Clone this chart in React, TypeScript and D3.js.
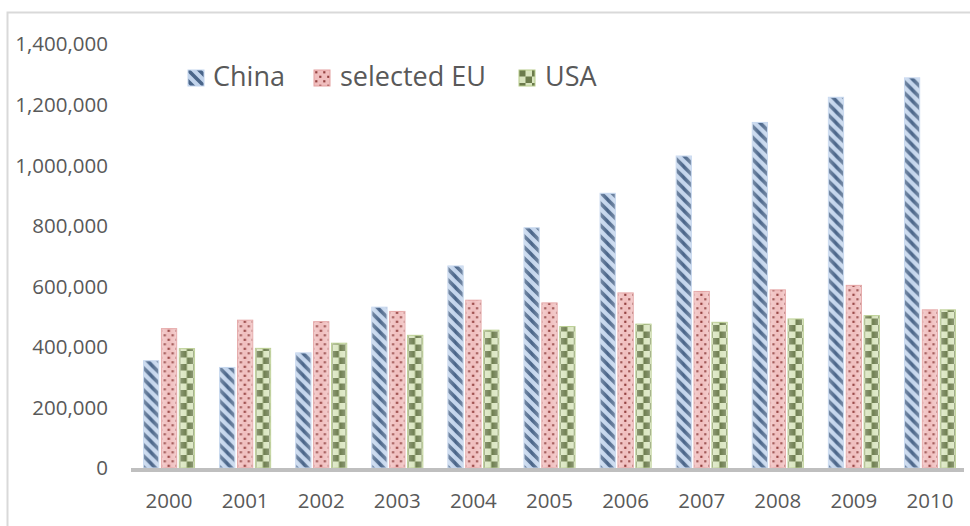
import React from "react";
import * as d3 from "d3";

const years = ["2000", "2001", "2002", "2003", "2004", "2005", "2006", "2007", "2008", "2009", "2010"];
const seriesNames = ["China", "selected EU", "USA"];
const china = [354000, 332000, 380000, 531000, 667000, 793000, 907000, 1030000, 1141000, 1224000, 1288000];
const eu = [460000, 488000, 483000, 517000, 554000, 545000, 578000, 583000, 588000, 603000, 522000];
const usa = [394000, 395000, 412000, 438000, 455000, 467000, 475000, 481000, 492000, 503000, 522000];
const yTicks = [0, 200000, 400000, 600000, 800000, 1000000, 1200000, 1400000];

const W = 970;
const H = 526;
const FONT = "'Open Sans', 'Liberation Sans', sans-serif";

export default function App() {
  const x = d3.scaleBand<string>().domain(years).range([131, 968]).paddingInner(0.33).paddingOuter(0.165);
  const xs = d3.scaleBand<string>().domain(seriesNames).range([0, x.bandwidth()]).paddingInner(0.15);
  const y = d3.scaleLinear().domain([0, 1400000]).range([468, 44]);
  const fmt = d3.format(",");
  const data = [china, eu, usa];
  const strokes = ["#c3d5ee", "#e3a0a0", "#b7cc8c"];

  const patternDefs = (id: string, s: number, px: number, py: number) => {
    if (s === 0) {
      return (
        <pattern key={id} id={id} patternUnits="userSpaceOnUse" x={px} y={py} width={11} height={11}>
          <rect width={11} height={11} fill="#c2d4ec" />
          <path d="M-5.5,-5.5 L16.5,16.5 M-5.5,5.5 L5.5,16.5 M5.5,-5.5 L16.5,5.5" stroke="#4a6589" strokeWidth={3.6} />
        </pattern>
      );
    }
    if (s === 1) {
      return (
        <pattern key={id} id={id} patternUnits="userSpaceOnUse" x={px} y={py} width={8} height={9}>
          <rect width={8} height={9} fill="#f0bebe" />
          <rect x={1.2} y={1.2} width={2.2} height={2.2} fill="#93403f" />
          <rect x={5.2} y={5.7} width={2.2} height={2.2} fill="#93403f" />
        </pattern>
      );
    }
    return (
      <pattern key={id} id={id} patternUnits="userSpaceOnUse" x={px} y={py} width={13} height={13}>
        <rect width={13} height={13} fill="#d9e5bf" />
        <rect x={0} y={0} width={6.5} height={6.5} fill="#6b7b4c" />
        <rect x={6.5} y={6.5} width={6.5} height={6.5} fill="#6b7b4c" />
      </pattern>
    );
  };

  const defs: React.ReactNode[] = [];
  const bars: React.ReactNode[] = [];
  years.forEach((yr, i) => {
    seriesNames.forEach((s, si) => {
      const v = data[si][i];
      const bx = (x(yr) as number) + (xs(s) as number);
      const by = y(v);
      const bw = xs.bandwidth();
      const bh = y(0) - by;
      const id = `p-${si}-${i}`;
      defs.push(patternDefs(id, si, bx + 1, y(0)));
      bars.push(
        <g key={id}>
          <rect x={bx} y={by} width={bw} height={bh} fill={`url(#${id})`} stroke={strokes[si]} strokeWidth={1} />
          <rect x={bx} y={by} width={bw} height={bh} fill="url(#sheen)" />
        </g>
      );
    });
  });

  const legendX = [188, 314, 519];
  const legendTextX = [213, 340, 545];

  return (
    <svg width={W} height={H} style={{ position: "absolute", left: 0, top: 0, background: "#fff" }}>
      <defs>
        <linearGradient id="sheen" x1="0" x2="1" y1="0" y2="0">
          <stop offset="0" stopColor="#fff" stopOpacity={0.25} />
          <stop offset="0.5" stopColor="#fff" stopOpacity={0} />
          <stop offset="1" stopColor="#fff" stopOpacity={0.25} />
        </linearGradient>
        {defs}
        {seriesNames.map((s, si) => patternDefs(`leg-${si}`, si, legendX[si], 70))}
      </defs>
      <path d={`M7.5,${H} L7.5,12.5 L${W},12.5`} fill="none" stroke="#d9d9d9" strokeWidth={2} />
      {yTicks.map((t) => (
        <text key={t} x={108} y={y(t)} dy="0.36em" textAnchor="end" fontFamily={FONT} fontSize={20.5} fill="#595959">
          {fmt(t)}
        </text>
      ))}
      {bars}
      <rect x={131} y={468} width={833} height={4} fill="#bfbfbf" />
      {years.map((yr) => (
        <text key={yr} x={(x(yr) as number) + x.bandwidth() / 2} y={508} textAnchor="middle" fontFamily={FONT} fontSize={20.5} fill="#595959">
          {yr}
        </text>
      ))}
      {seriesNames.map((s, si) => (
        <g key={s}>
          <rect x={legendX[si]} y={70} width={16} height={16} fill={`url(#leg-${si})`} stroke={strokes[si]} strokeWidth={1} />
          <text x={legendTextX[si]} y={86} fontFamily={FONT} fontSize={27} fill="#595959">
            {s}
          </text>
        </g>
      ))}
    </svg>
  );
}
